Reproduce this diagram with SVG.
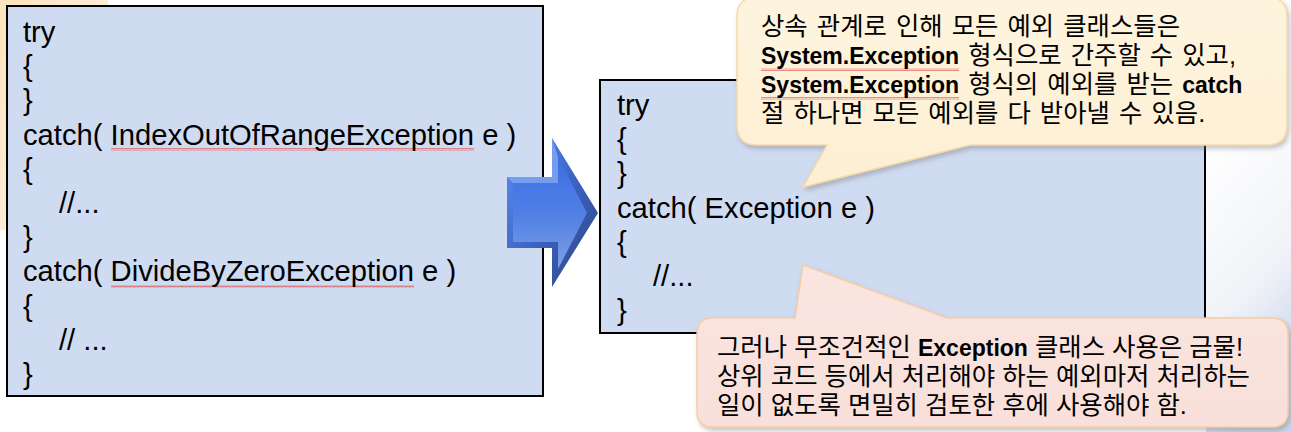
<svg xmlns="http://www.w3.org/2000/svg" width="1291" height="432" viewBox="0 0 1291 432">
  <defs>
    <style>
      .code { font-family: "Liberation Sans", Arial, sans-serif; font-size: 29.2px; fill: #000; }
      .note { font-family: "Liberation Sans", "Noto Sans CJK KR", sans-serif; font-size: 25.4px; fill: #000; }
      .ws { word-spacing: 2px; }
      .b { font-weight: bold; font-size: 23px; }
      .box { fill: #cfdbf1; stroke: #000; stroke-width: 2; }
      .squig { fill: url(#squig); opacity: 0.8; }
    </style>
    <pattern id="squig" width="4" height="3" patternUnits="userSpaceOnUse">
      <path d="M0,2.5 L1,0.5 L2,2.5 L3,0.5 L4,2.5" fill="none" stroke="#e23a3a" stroke-width="0.7"/>
    </pattern>
    <linearGradient id="orange" x1="0" y1="0" x2="1" y2="1">
      <stop offset="0" stop-color="#fde3bd"/>
      <stop offset="1" stop-color="#fff6ea"/>
    </linearGradient>
    <linearGradient id="bgr" x1="0" y1="0" x2="0.3" y2="1">
      <stop offset="0" stop-color="#ffffff"/>
      <stop offset="0.6" stop-color="#f1f3f8"/>
      <stop offset="1" stop-color="#c9d6ec"/>
    </linearGradient>
    <linearGradient id="arrowOuter" x1="0" y1="0" x2="1" y2="1">
      <stop offset="0" stop-color="#5f8ff0"/>
      <stop offset="0.5" stop-color="#3c64c4"/>
      <stop offset="1" stop-color="#2e4378"/>
    </linearGradient>
    <linearGradient id="arrowInner" x1="0" y1="0" x2="0" y2="1">
      <stop offset="0" stop-color="#3d6fe4"/>
      <stop offset="0.5" stop-color="#4f7fe6"/>
      <stop offset="1" stop-color="#7f9fe4"/>
    </linearGradient>
    <linearGradient id="creamFill" x1="0" y1="0" x2="0" y2="1">
      <stop offset="0" stop-color="#fef4de"/>
      <stop offset="1" stop-color="#fdefd3"/>
    </linearGradient>
    <linearGradient id="pinkFill" x1="0" y1="0" x2="0" y2="1">
      <stop offset="0" stop-color="#fae5e0"/>
      <stop offset="1" stop-color="#f9e0da"/>
    </linearGradient>
    <filter id="shadow" x="-10%" y="-20%" width="120%" height="150%">
      <feDropShadow dx="2" dy="3" stdDeviation="2.5" flood-color="#7a7a7a" flood-opacity="0.45"/>
    </filter>
  </defs>

  <!-- background -->
  <rect x="0" y="0" width="1291" height="432" fill="#ffffff"/>
  <rect x="0" y="0" width="108" height="230" fill="url(#orange)"/>
  <rect x="1206" y="140" width="85" height="292" fill="url(#bgr)"/>

  <!-- left code box -->
  <g id="left-code">
    <rect class="box" x="7" y="6" width="536" height="390"/>
    <rect class="squig" x="111" y="148" width="363" height="3"/>
    <rect class="squig" x="111" y="285" width="303" height="3"/>
    <text class="code" x="23" y="42">try</text>
    <text class="code" x="23" y="76.2">{</text>
    <text class="code" x="23" y="110.4">}</text>
    <text class="code" x="23" y="144.6">catch( IndexOutOfRangeException e )</text>
    <text class="code" x="23" y="178.8">{</text>
    <text class="code" x="59" y="213">//...</text>
    <text class="code" x="23" y="247.2">}</text>
    <text class="code" x="23" y="281.4">catch( DivideByZeroException e )</text>
    <text class="code" x="23" y="315.6">{</text>
    <text class="code" x="59" y="349.8">// ...</text>
    <text class="code" x="23" y="384">}</text>
  </g>

  <!-- right code box -->
  <g id="right-code">
    <rect class="box" x="600" y="80" width="605" height="253"/>
    <text class="code" x="617" y="115">try</text>
    <text class="code" x="617" y="149.2">{</text>
    <text class="code" x="617" y="183.4">}</text>
    <text class="code" x="617" y="217.6">catch( Exception e )</text>
    <text class="code" x="617" y="251.8">{</text>
    <text class="code" x="653" y="286">//...</text>
    <text class="code" x="617" y="320.2">}</text>
  </g>

  <!-- connector: block arrow -->
  <g id="connectors">
    <polygon points="507,177 552,177 552,138 598,213 552,287 552,248 507,248" fill="url(#arrowOuter)"/>
    <polygon points="513,183 558,183 558,157 587,213 558,269 558,242 513,242" fill="url(#arrowInner)"/>
    <polygon points="507,177 552,177 552,138 558,157 558,183 513,183" fill="#7ea4f2" opacity="0.85"/>
  </g>

  <!-- top callout -->
  <g id="callout-top">
    <path d="M757,-3 H1267 Q1287,-3 1287,17 V125 Q1287,145 1267,145 H970 L803,187 L827,145 H757 Q737,145 737,125 V17 Q737,-3 757,-3 Z" fill="url(#creamFill)" stroke="#f6d9aa" stroke-width="1.5" filter="url(#shadow)"/>
    <rect class="squig" x="761" y="68" width="198" height="3"/>
    <rect class="squig" x="761" y="97" width="198" height="3"/>
    <text class="note ws" x="761" y="35">상속 관계로 인해 모든 예외 클래스들은</text>
    <text class="note ws" x="761" y="64"><tspan class="b">System.Exception</tspan> 형식으로 간주할 수 있고,</text>
    <text class="note ws" x="761" y="93"><tspan class="b">System.Exception</tspan> 형식의 예외를 받는 <tspan class="b">catch</tspan></text>
    <text class="note ws" x="761" y="122">절 하나면 모든 예외를 다 받아낼 수 있음.</text>
  </g>

  <!-- bottom callout -->
  <g id="callout-bottom">
    <path d="M713,318 H795 L803,265 L947,318 H1272 Q1288,318 1288,334 V411 Q1288,427 1272,427 H713 Q697,427 697,411 V334 Q697,318 713,318 Z" fill="url(#pinkFill)" stroke="#f5cda6" stroke-width="1.5" filter="url(#shadow)"/>
    <text class="note" x="717" y="356">그러나 무조건적인 <tspan class="b">Exception</tspan> 클래스 사용은 금물!</text>
    <text class="note" x="717" y="385">상위 코드 등에서 처리해야 하는 예외마저 처리하는</text>
    <text class="note" x="717" y="414">일이 없도록 면밀히 검토한 후에 사용해야 함.</text>
  </g>
</svg>
